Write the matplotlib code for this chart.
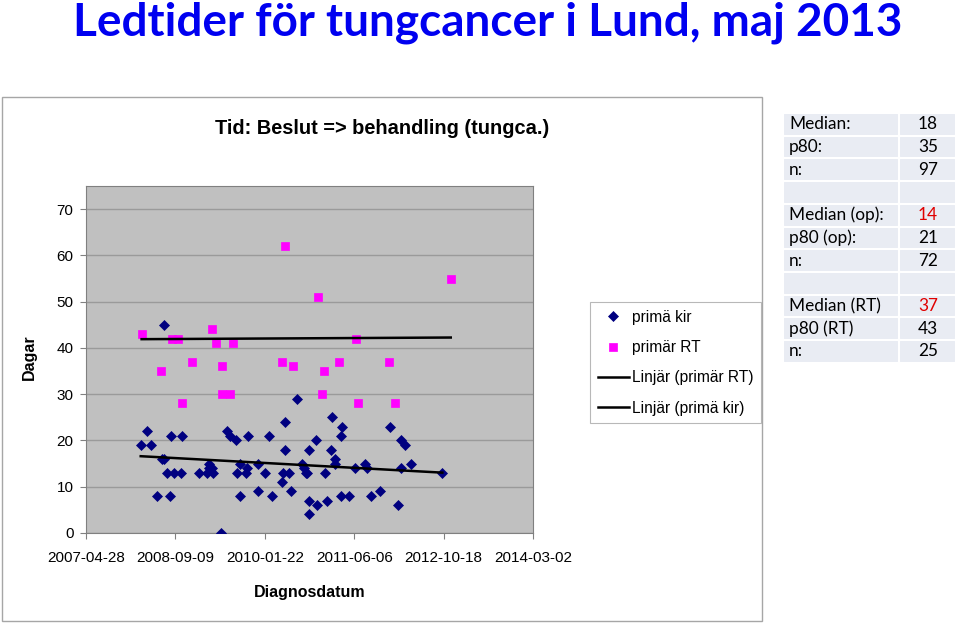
import matplotlib.pyplot as plt
import matplotlib.dates as mdates
import numpy as np
import pandas as pd
from matplotlib.patches import Rectangle

# primä kir (operation) - diagnosdatum and dagar
kir_dates = ['2008-07-09', '2010-07-23', '2010-05-13', '2011-02-02', '2011-03-30',
             '2011-03-22', '2008-04-05', '2008-02-28', '2008-04-26', '2008-08-14',
             '2008-10-14', '2009-06-26', '2009-07-11', '2009-08-14', '2009-10-22',
             '2010-02-13', '2010-11-04', '2010-05-13', '2010-09-25', '2011-01-27',
             '2008-06-24', '2008-07-09', '2009-03-18', '2009-09-05', '2009-12-17',
             '2010-08-16', '2011-02-19', '2011-02-20', '2009-10-16', '2009-03-18',
             '2009-03-31', '2010-08-29', '2008-07-22', '2008-09-03', '2008-10-12',
             '2009-01-21', '2009-03-06', '2009-04-06', '2009-08-18', '2009-10-09',
             '2010-01-21', '2010-05-02', '2010-06-05', '2010-09-08', '2010-09-17',
             '2010-12-23', '2011-06-11', '2010-04-30', '2008-05-31', '2008-08-10',
             '2009-09-05', '2009-12-17', '2010-03-05', '2010-06-19', '2010-09-25',
             '2010-11-12', '2011-01-07', '2011-03-22', '2011-05-06', '2010-09-25',
             '2009-05-22', '2011-12-23', '2012-02-21', '2012-03-16', '2011-08-05',
             '2011-08-15', '2012-04-19', '2012-02-21', '2012-10-11', '2011-09-08',
             '2011-10-28', '2012-02-08']
kir_days = [45, 29, 24, 25, 23, 21, 22, 19, 19, 21,
            21, 22, 21, 20, 21, 21, 20, 18, 18, 18,
            16, 16, 15, 15, 15, 15, 16, 15, 14, 14,
            14, 14, 13, 13, 13, 13, 13, 13, 13, 13,
            13, 13, 13, 13, 13, 13, 14, 11, 8, 8,
            8, 9, 8, 9, 7, 6, 7, 8, 8, 4,
            0, 23, 20, 19, 15, 14, 15, 14, 13, 8,
            9, 6]

# primär RT (last one lies above the visible range, n = 25)
rt_dates = ['2010-05-15', '2010-11-14', '2008-03-04', '2009-03-31', '2008-08-19',
            '2008-09-25', '2009-04-22', '2009-07-30', '2011-06-14', '2008-06-22',
            '2008-12-09', '2009-05-26', '2010-04-27', '2010-06-27', '2010-12-19',
            '2011-03-13', '2009-05-26', '2009-07-11', '2010-12-06', '2008-10-14',
            '2011-06-29', '2012-11-27', '2011-12-19', '2012-01-22', '2009-11-20']
rt_days = [62, 51, 43, 44, 42, 42, 41, 41, 42, 35,
           37, 36, 37, 36, 35, 37, 30, 30, 30, 28,
           28, 55, 37, 28, 124]

x_tick_dates = ['2007-04-28', '2008-09-09', '2010-01-22', '2011-06-06',
                '2012-10-18', '2014-03-02']
y_ticks = [0, 10, 20, 30, 40, 50, 60, 70]

table_labels = ['Median:', 'p80:', 'n:', '', 'Median (op):', 'p80 (op):', 'n:',
                '', 'Median (RT)', 'p80 (RT)', 'n:']
table_values = ['18', '35', '97', '', '14', '21', '72', '', '37', '43', '25']
table_red = [False, False, False, False, True, False, False, False, True, False, False]

W, H = 960, 624
fig = plt.figure(figsize=(W / 100, H / 100), dpi=100)

# overlay in pixel coordinates for slide elements
bg = fig.add_axes([0, 0, 1, 1])
bg.set_xlim(0, W)
bg.set_ylim(H, 0)
bg.axis('off')

# chart frame
bg.add_patch(Rectangle((2, 97), 760, 524, facecolor='white', edgecolor='#a6a6a6', lw=1))

# slide title
bg.text(488, 35, 'Ledtider för tungcancer i Lund, maj 2013', color='#0000f0',
        fontsize=33, fontweight='bold', family='Lato', ha='center', va='baseline')

# chart title and axis labels
bg.text(382, 128, 'Tid: Beslut => behandling (tungca.)', fontsize=14.4,
        fontweight='bold', family='Liberation Sans', ha='center', va='center')
bg.text(29, 357, 'Dagar', fontsize=11.5, fontweight='bold', family='Liberation Sans',
        rotation=90, ha='center', va='center')
bg.text(310, 592, 'Diagnosdatum', fontsize=11.5, fontweight='bold',
        family='Liberation Sans', ha='center', va='center')

# table on the right
row_h = 22.7
for i, (lab, val, red) in enumerate(zip(table_labels, table_values, table_red)):
    y0 = 113 + i * row_h
    bg.add_patch(Rectangle((783, y0), 116, row_h, facecolor='#e9ecf3',
                           edgecolor='white', lw=1.5))
    bg.add_patch(Rectangle((899, y0), 57, row_h, facecolor='#e9ecf3',
                           edgecolor='white', lw=1.5))
    bg.text(789, y0 + row_h / 2, lab, fontsize=12.4, family='Lato',
            ha='left', va='center')
    bg.text(938, y0 + row_h / 2, val, fontsize=12.4, family='Lato',
            ha='right', va='center', color='#e00000' if red else 'black')

# scatter plot
ax = fig.add_axes([86 / W, 1 - 533 / H, 447 / W, 347 / H])
ax.set_facecolor('#c0c0c0')

kx = mdates.date2num(pd.to_datetime(kir_dates))
rx = mdates.date2num(pd.to_datetime(rt_dates))
ky = np.array(kir_days)
ry = np.array(rt_days)

ax.plot(kx, ky, 'D', color='#000080', ms=5.5, mew=0.5, label='primä kir', zorder=3)
ax.plot(rx, ry, 's', color='#ff00ff', ms=5.5, mew=0.5, label='primär RT', zorder=3)

# linear trend lines (Excel "Linjär")
for xs, ys, lab in [(rx, ry, 'Linjär (primär RT)'), (kx, ky, 'Linjär (primä kir)')]:
    k, m = np.polyfit(xs, ys, 1)
    xl = np.array([xs.min(), xs.max()])
    ax.plot(xl, k * xl + m, color='black', lw=1.8, label=lab, zorder=4)

xt = mdates.date2num(pd.to_datetime(x_tick_dates))
ax.set_xlim(xt[0], xt[-1])
ax.set_xticks(xt)
ax.set_xticklabels(x_tick_dates)
ax.set_ylim(0, 75)
ax.set_yticks(y_ticks)
ax.yaxis.grid(True, color='#9a9a9a', lw=1)
ax.set_axisbelow(True)
for s in ax.spines.values():
    s.set_color('#808080')
ax.tick_params(axis='both', direction='out', length=4, color='#808080',
               labelsize=11, pad=5)
ax.tick_params(axis='x', pad=9)
for t in ax.get_xticklabels() + ax.get_yticklabels():
    t.set_family('Liberation Sans')

h, l = ax.get_legend_handles_labels()
leg = fig.legend(h, l, loc='upper left', bbox_to_anchor=(590 / W, 1 - 302 / H),
                 frameon=True, fancybox=False, edgecolor='#a6a6a6',
                 prop={'family': 'Liberation Sans', 'size': 11.2},
                 handlelength=2.0, handletextpad=0.2, labelspacing=0.98,
                 borderpad=0.5, borderaxespad=0)
leg.get_frame().set_linewidth(0.8)

fig.savefig('out.png', dpi=100)
